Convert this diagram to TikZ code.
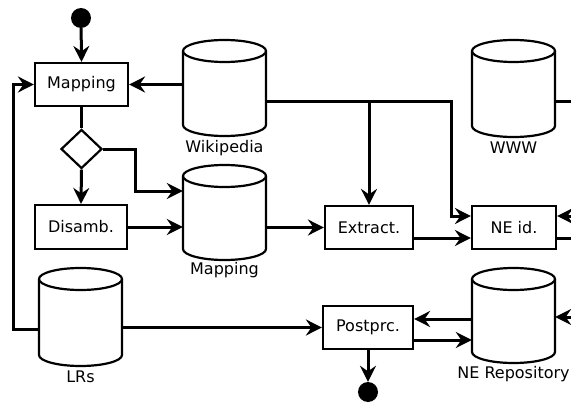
\documentclass[tikz,border=0pt]{standalone}
\usepackage{fontspec}
\setmainfont{DejaVu Sans}
\usetikzlibrary{shapes.geometric,arrows.meta,calc}
\tikzset{
  proc/.style={draw,line width=2.2pt,rectangle,inner sep=0pt,font=\fontsize{16}{19}\selectfont},
  lbl/.style={inner sep=0pt,font=\fontsize{16}{19}\selectfont},
  cylb/.style={draw,line width=2.2pt,fill=white},
  conn/.style={line width=3pt},
  arr/.style={line width=3pt,-{Stealth[length=16pt,width=16pt,inset=5.5pt]}},
  dot/.style={circle,fill=black,inner sep=0pt,minimum size=20pt},
  dec/.style={diamond,draw,line width=2.2pt,inner sep=0pt,minimum width=41pt,minimum height=39pt}
}
\newcommand\dbcyl[4]{%
  \pgfmathsetmacro\cyA{#3+11}\pgfmathsetmacro\cyB{#4-11}%
  \pgfmathsetmacro\cyM{(#3+#4)/2}\pgfmathsetmacro\cyH{#4-#3}%
  \pgfmathsetmacro\cxL{#2-41.5}\pgfmathsetmacro\cxR{#2+41.5}%
  \node[inner sep=0pt,minimum width=83pt,minimum height=\cyH pt] (#1) at (#2,\cyM) {};
  \draw[cylb] (\cxL,\cyA) -- (\cxL,\cyB) arc[start angle=180,end angle=360,x radius=41.5pt,y radius=11pt] -- (\cxR,\cyA);
  \draw[cylb] (#2,\cyA) ellipse[x radius=41.5pt,y radius=11pt];
}
\begin{document}
\begin{tikzpicture}[x=1pt,y=-1pt]
\useasboundingbox (0,0) rectangle (571,404);
\clip (0,0) rectangle (571,404);

% cylinders
\dbcyl{wiki}{224.5}{40}{136}
\dbcyl{mapdb}{224.5}{165}{260}
\dbcyl{www}{513.5}{40}{137}
\dbcyl{lrs}{80.5}{268}{366}
\dbcyl{nerep}{513.5}{268}{363}

\node[lbl] (wikil) at (224.5,148) {Wikipedia};
\node[lbl] (mapdbl) at (224.5,270) {Mapping};
\node[lbl] (wwwl) at (513.5,148) {WWW};
\node[lbl] (lrsl) at (80.5,377) {LRs};
\node[lbl] (nerepl) at (513.5,374) {NE Repository};

% process nodes
\node[dot] (start) at (81,18) {};
\node[proc,minimum width=93pt,minimum height=43pt] (map) at (81.5,84.5) {Mapping};
\node[dec] (dia) at (81.5,149) {};
\node[proc,minimum width=92pt,minimum height=44pt] (disamb) at (81,227) {Disamb.};
\node[proc,minimum width=88pt,minimum height=43pt] (extract) at (369,227.5) {Extract.};
\node[proc,minimum width=84pt,minimum height=43pt] (neid) at (514,227.5) {NE id.};
\node[proc,minimum width=90pt,minimum height=43pt] (post) at (368,327.5) {Postprc.};
\node[dot] (end) at (368,392) {};

% helper coordinates
\coordinate (k1) at (135,191);
\coordinate (w1) at (451,102);
\coordinate (w2) at (0,216);
\coordinate (e1) at (0,238);
\coordinate (k4) at (13,329);
\coordinate (p1) at (0,319);
\coordinate (p2) at (0,340);
\coordinate (r1) at (590,216);
\coordinate (r2) at (590,238);
\coordinate (r3) at (590,317);
\coordinate (r4) at (590,102);

% connectors
\draw[arr] (start) -- (map.north);
\draw[arr] (map.east -| wiki.west) -- (map.east);
\draw[conn] (map.south) -- (dia.north);
\draw[arr] (dia.south) -- (disamb.north);
\draw[arr] (dia.east) -| (k1) -- (mapdb.west |- k1);
\draw[arr] (disamb.east) -- (disamb.east -| mapdb.west);
\draw[arr] (extract.west -| mapdb.east) -- (extract.west);
\draw[arr] (wiki.east |- w1) -- (w1) |- (neid.west |- w2);
\draw[arr] (extract.north |- w1) -- (extract.north);
\draw[arr] (extract.east |- e1) -- (neid.west |- e1);
\draw[conn] (www.east |- r4) -- (r4);
\draw[arr] (r1) -- (neid.east |- r1);
\draw[conn] (neid.east |- r2) -- (r2);
\draw[arr] (lrs.west |- k4) -- (k4) |- (map.west);
\draw[arr] (post.west -| lrs.east) -- (post.west);
\draw[arr] (nerep.west |- p1) -- (post.east |- p1);
\draw[arr] (post.east |- p2) -- (nerep.west |- p2);
\draw[arr] (r3) -- (nerep.east |- r3);
\draw[arr] (post.south) -- (end.north);
\end{tikzpicture}
\end{document}
